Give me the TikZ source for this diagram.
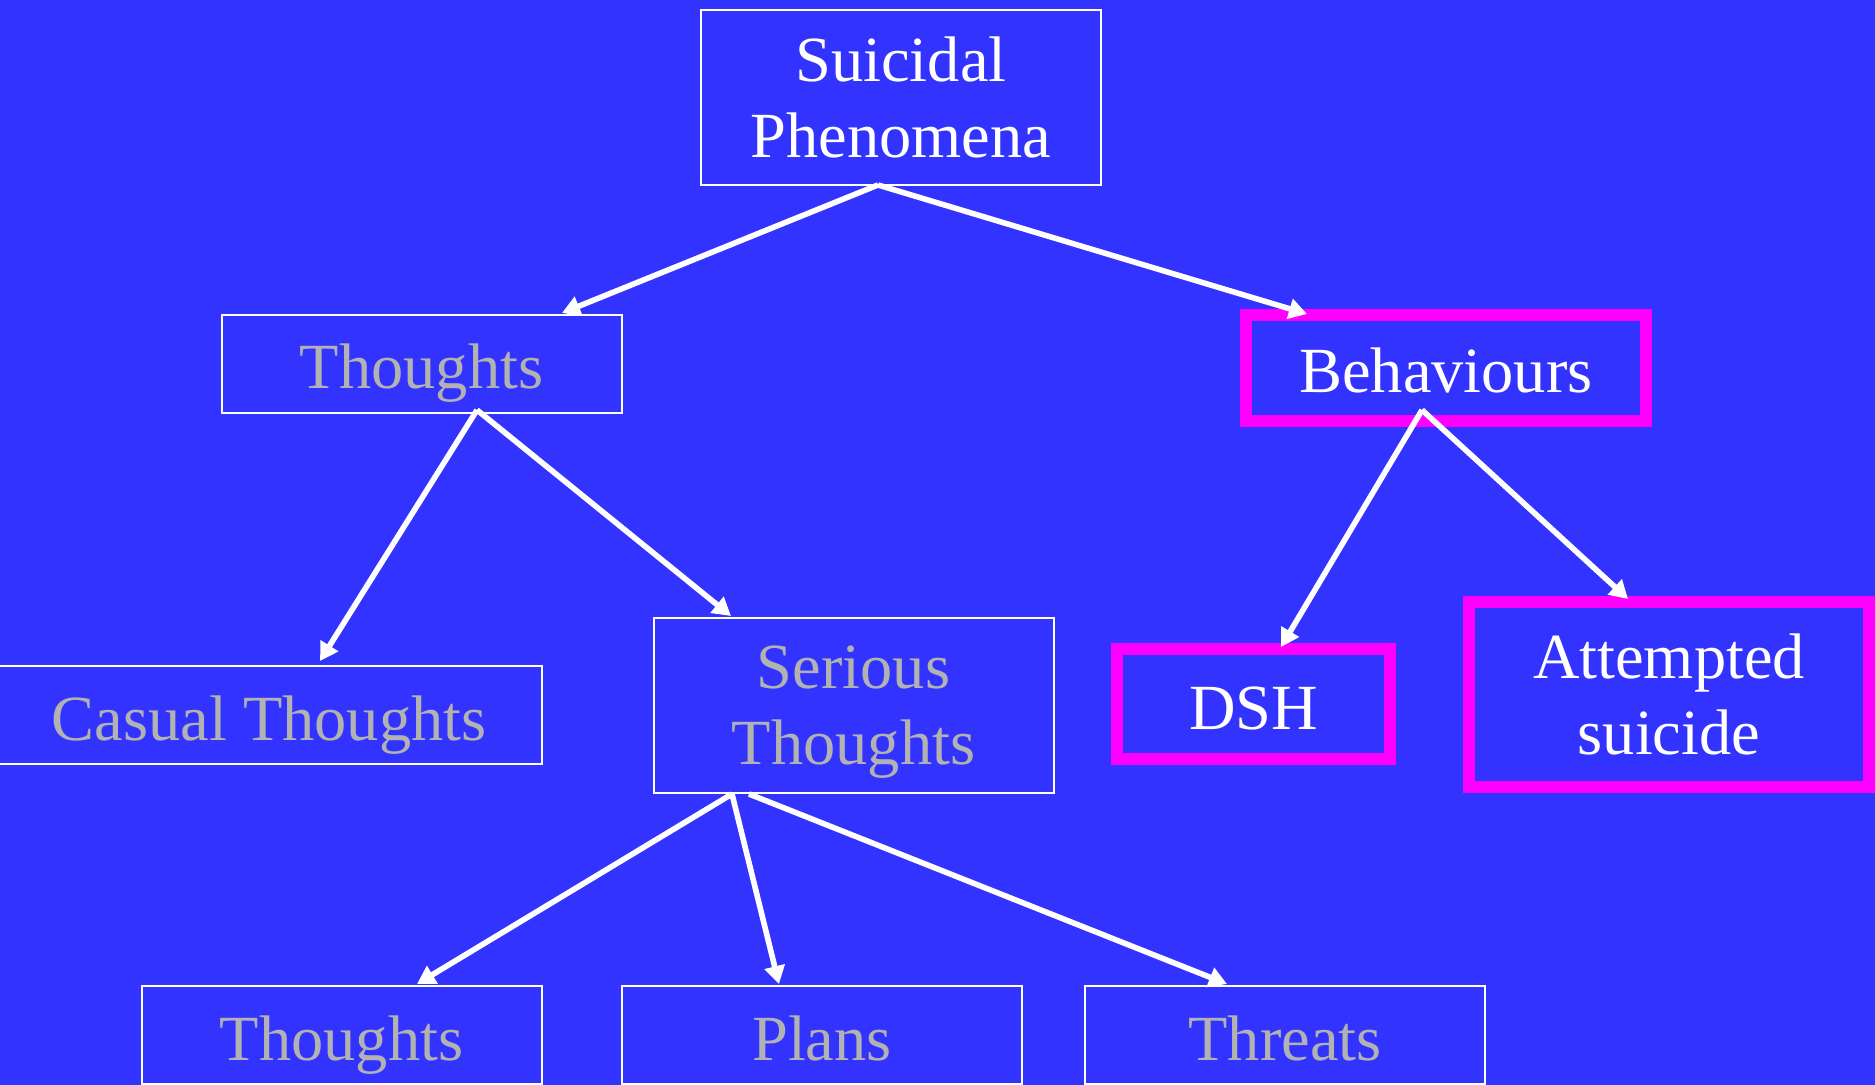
\documentclass[tikz,border=0pt]{standalone}
\usepackage{fontspec}
\setmainfont{Liberation Serif}
\usetikzlibrary{arrows.meta,calc}
\definecolor{bgblue}{RGB}{51,51,255}
\definecolor{txtgray}{RGB}{178,178,178}
\definecolor{hotmag}{RGB}{255,0,255}
\begin{document}
\begin{tikzpicture}[x=0.5pt,y=-0.5pt,
  every node/.style={inner sep=0pt,outer sep=0pt,align=center,font=\fontsize{32.2}{38}\selectfont},
  thinbox/.style={draw=white,line width=1pt,rectangle},
  hotbox/.style={draw=hotmag,line width=6pt,rectangle,text=white},
  graytxt/.style={text=txtgray},
  oneline/.style={text height=33pt,text depth=8pt},
  twoline/.style={text depth=0pt},
  conn/.style={draw=white,line width=2.8pt,-{Triangle[length=9pt,width=10pt]}}]
\useasboundingbox (0,0) rectangle (1875,1085);
\fill[bgblue] (0,0) rectangle (1875,1085);
% nodes
\node[thinbox,twoline,text=white,minimum width=200pt,minimum height=87.5pt] (sp) at (901,97.5) {Suicidal\\Phenomena};
\node[thinbox,oneline,graytxt,minimum width=200pt,minimum height=49pt] (th) at (421.5,364) {Thoughts};
\node[hotbox,oneline,minimum width=200pt,minimum height=53pt] (beh) at (1446,368) {Behaviours};
\node[thinbox,oneline,graytxt,minimum width=273pt,minimum height=49pt] (cas) at (269,715) {Casual Thoughts};
\node[thinbox,twoline,graytxt,minimum width=200pt,minimum height=87.5pt] (ser) at (853.5,705.5) {Serious\\Thoughts};
\node[hotbox,oneline,minimum width=136.5pt,minimum height=55pt] (dsh) at (1253.5,704) {DSH};
\node[hotbox,twoline,minimum width=200pt,minimum height=92.5pt] (att) at (1669,694.5) {Attempted\\suicide};
\node[thinbox,oneline,graytxt,minimum width=200pt,minimum height=49pt] (bth) at (341.5,1035) {Thoughts};
\node[thinbox,oneline,graytxt,minimum width=200pt,minimum height=49pt] (pl) at (822,1035) {Plans};
\node[thinbox,oneline,graytxt,minimum width=200pt,minimum height=49pt] (thr) at (1285,1035) {Threats};
% connectors
\draw[conn] ($(sp.south)+(-23,0)$) -- ($(th.north)+(140.5,-2)$);
\draw[conn] ($(sp.south)+(-23,0)$) -- ($(beh.north)+(-139,-1)$);
\draw[conn] ($(th.south)+(55.5,-3)$) -- ($(cas.north)+(51,-5)$);
\draw[conn] ($(th.south)+(55.5,-3)$) -- ($(ser.north)+(-122.5,-2)$);
\draw[conn] ($(beh.south)+(-24,-11)$) -- ($(dsh.north)+(27.5,-2)$);
\draw[conn] ($(beh.south)+(-24,-11)$) -- ($(att.north)+(-41,-3)$);
\draw[conn] ($(ser.south)+(-121.5,1)$) -- ($(bth.north)+(75.5,-2)$);
\draw[conn] ($(ser.south)+(-121.5,1)$) -- ($(pl.north)+(-43,-2)$);
\draw[conn] ($(ser.south)+(-104.5,1)$) -- ($(thr.north)+(-58,-2)$);
\end{tikzpicture}
\end{document}
